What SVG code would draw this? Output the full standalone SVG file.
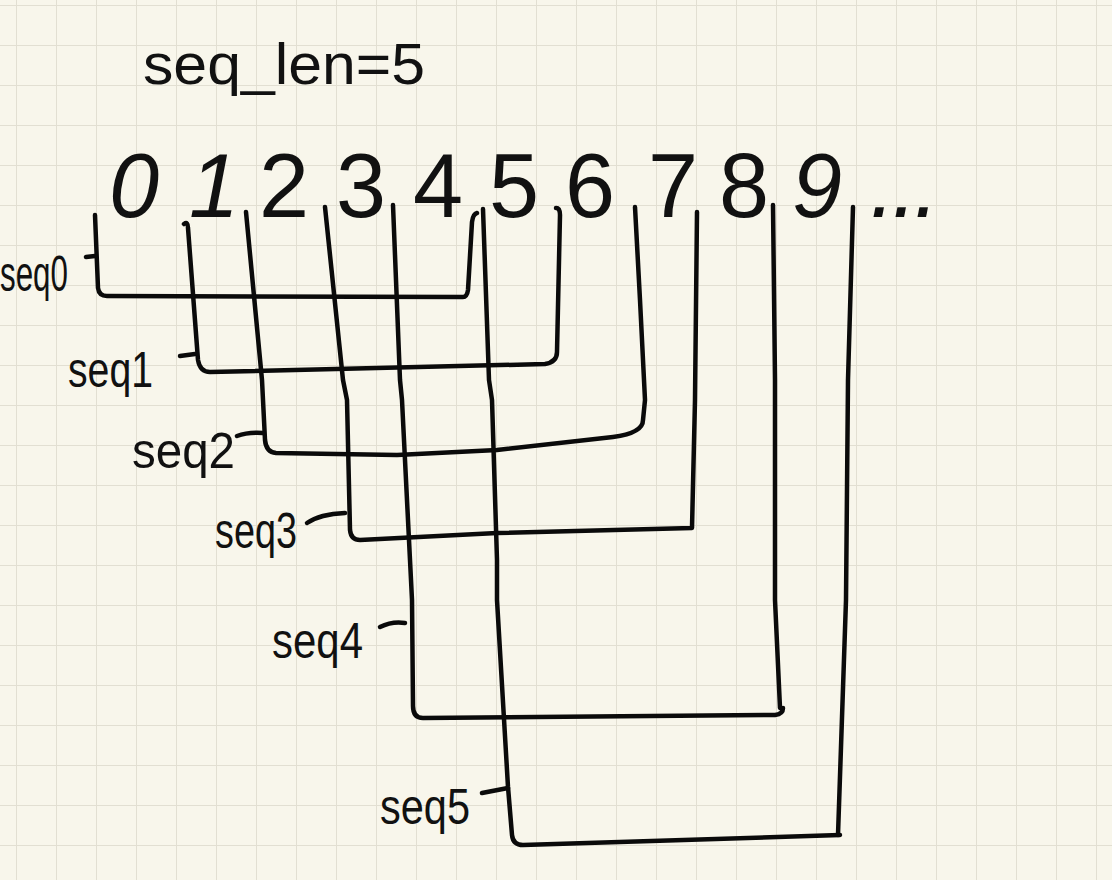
<svg xmlns="http://www.w3.org/2000/svg" width="1112" height="880" viewBox="0 0 1112 880">
  <defs>
    <pattern id="grid" x="16" y="5" width="40" height="40" patternUnits="userSpaceOnUse">
      <path d="M0,0 H40 M0,0 V40" fill="none" stroke="#e2dfd2" stroke-width="2"/>
    </pattern>
    <style>
      .digit { font-family: "Liberation Sans", Arial, sans-serif; font-size: 90px; fill: #111; text-anchor: middle; }
      .it { font-style: italic; }
      .hand { font-family: "Liberation Sans", Arial, sans-serif; fill: #111; }
      .label { font-size: 50px; }
      .wire { fill: none; stroke: #0a0a0a; stroke-width: 4.5; stroke-linecap: round; stroke-linejoin: round; }
    </style>
  </defs>
  <rect width="1112" height="880" fill="#f8f6eb"/>
  <rect width="1112" height="880" fill="url(#grid)"/>

  <g id="title">
    <text class="hand" x="143" y="84" font-size="58" textLength="282" lengthAdjust="spacingAndGlyphs">seq_len=5</text>
  </g>

  <g id="tokens">
    <g id="tok0"><text class="digit it" x="134" y="217">0</text></g>
    <g id="tok1"><text class="digit it" x="214" y="217">1</text></g>
    <g id="tok2"><text class="digit" x="284" y="217">2</text></g>
    <g id="tok3"><text class="digit" x="361" y="217">3</text></g>
    <g id="tok4"><text class="digit" x="438" y="217">4</text></g>
    <g id="tok5"><text class="digit" x="514" y="217">5</text></g>
    <g id="tok6"><text class="digit" x="590" y="217">6</text></g>
    <g id="tok7"><text class="digit" x="673" y="217">7</text></g>
    <g id="tok8"><text class="digit" x="744" y="217">8</text></g>
    <g id="tok9"><text class="digit it" x="817" y="217">9</text></g>
    <g id="tokmore"><text class="digit it" x="903" y="217" letter-spacing="-3">...</text></g>
  </g>

  <g id="connectors">
    <!-- seq0 -->
    <path class="wire" d="M95,215 L98,288 Q99,296 107,296 L463,297 Q467,297 468,290 L472,222 Q473,214 477,213"/>
    <path class="wire" d="M86,257 L95,256"/>
    <!-- seq1 -->
    <path class="wire" d="M184,224 Q188,221 188,228 L198,360 Q200,372 210,372 L545,364 Q557,362 557,352 L560,215 Q560,208 556,208"/>
    <path class="wire" d="M180,356 L195,354"/>
    <!-- seq2 -->
    <path class="wire" d="M246,212 L262,380 L265,440 Q266,452 276,453 L397,455 L497,450 L613,437 Q643,433 643,420 L645,400 L640,300 L635,207"/>
    <path class="wire" d="M237,436 Q248,432 263,433"/>
    <!-- seq3 -->
    <path class="wire" d="M325,207 L343,380 L347,400 L350,530 Q351,540 360,540 L497,533 L692,528 L695,400 L697,212"/>
    <path class="wire" d="M307,523 Q320,514 345,513"/>
    <!-- seq4 -->
    <path class="wire" d="M393,205 L400,380 L402,400 L410,560 L412,600 L413,706 Q413,718 423,718 L775,715 Q783,714 783,708"/>
    <path class="wire" d="M780,708 L775,600 L775,380 L773,205"/>
    <path class="wire" d="M380,627 Q392,621 405,623"/>
    <!-- seq5 -->
    <path class="wire" d="M483,209 L489,380 L492,400 L497,560 L497,600 L508,787 L512,835 Q513,845 523,845 L840,835"/>
    <path class="wire" d="M838,835 L846,600 L848,380 L853,207"/>
    <path class="wire" d="M482,793 L508,788"/>
  </g>

  <g id="labels">
    <g id="seq0"><text class="hand label" x="0" y="291" textLength="68" lengthAdjust="spacingAndGlyphs">seq0</text></g>
    <g id="seq1"><text class="hand label" x="68" y="387" textLength="85" lengthAdjust="spacingAndGlyphs">seq1</text></g>
    <g id="seq2"><text class="hand label" x="132" y="468" textLength="103" lengthAdjust="spacingAndGlyphs">seq2</text></g>
    <g id="seq3"><text class="hand label" x="215" y="548" textLength="82" lengthAdjust="spacingAndGlyphs">seq3</text></g>
    <g id="seq4"><text class="hand label" x="272" y="658" textLength="91" lengthAdjust="spacingAndGlyphs">seq4</text></g>
    <g id="seq5"><text class="hand label" x="380" y="824" textLength="90" lengthAdjust="spacingAndGlyphs">seq5</text></g>
  </g>
</svg>
